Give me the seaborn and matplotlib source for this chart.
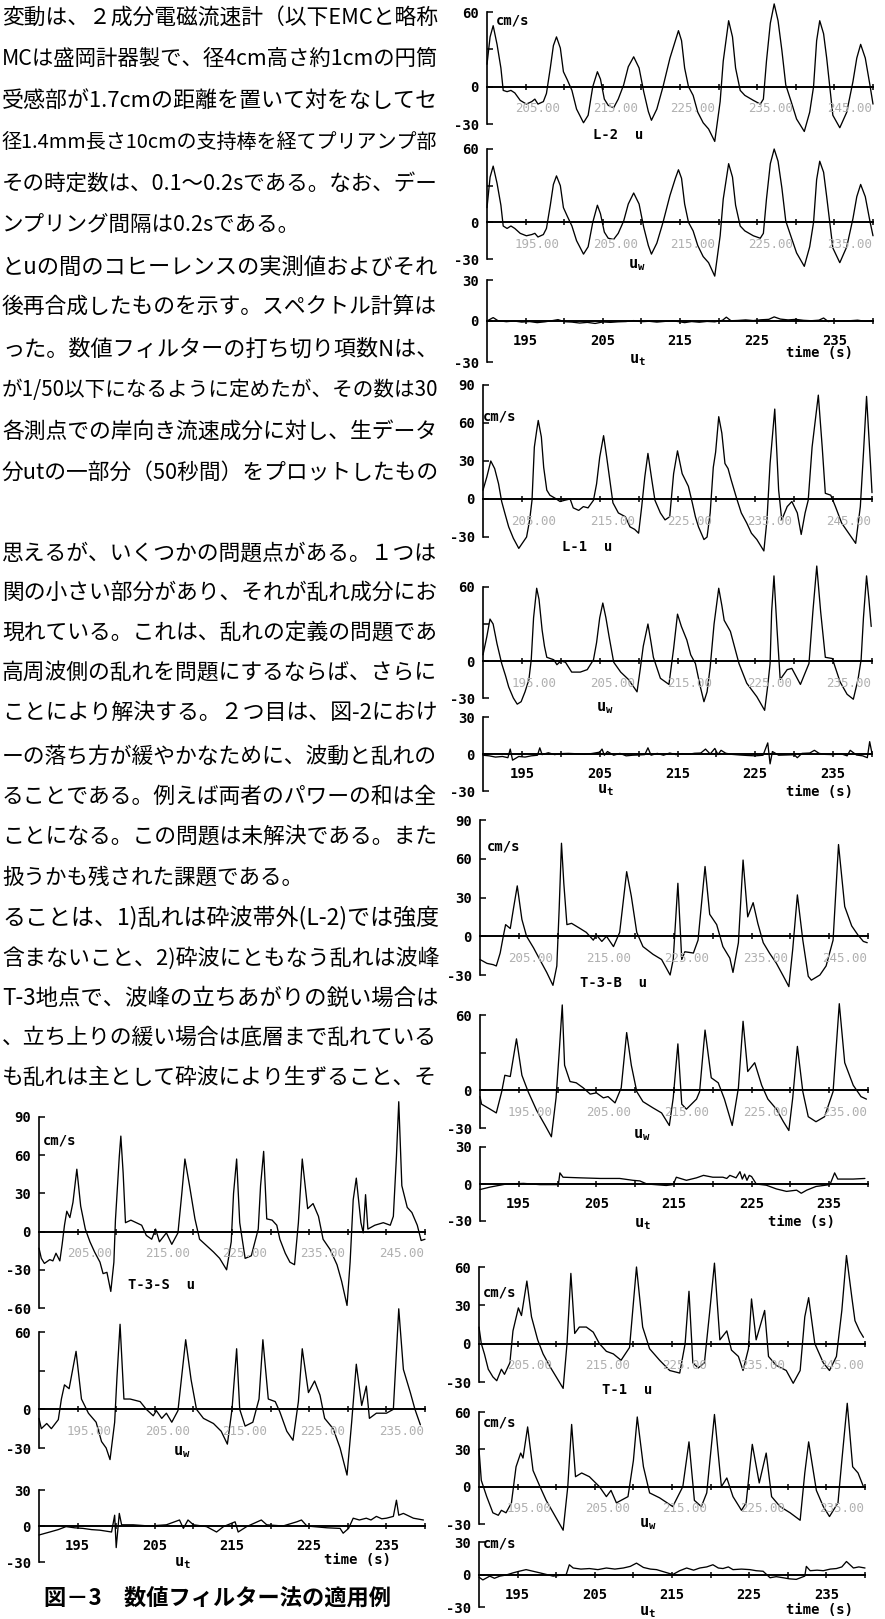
import matplotlib
matplotlib.use("Agg")
import matplotlib.pyplot as plt
import seaborn as sns
from matplotlib.ticker import FixedLocator, FixedFormatter, NullFormatter

# ------------------------------------------------------------------ data
# L-2
L2_U_TIME = [190.0, 190.4, 190.8, 191.3, 191.8, 192.1, 192.6, 193.1, 193.6, 194.3, 195.1, 195.8, 196.2, 196.6,
             197.3, 197.7, 198.2, 198.6, 199.0, 199.5, 199.9, 200.4, 201.0, 201.6, 202.5, 203.1, 203.7, 204.3,
             204.7, 205.2, 205.7, 206.4, 207.0, 207.7, 208.3, 209.0, 209.7, 210.3, 210.9, 211.3, 212.0, 212.8,
             213.7, 214.4, 214.8, 215.2, 215.6, 216.1, 216.7, 217.3, 218.0, 218.7, 219.5, 220.2, 220.6, 221.3,
             221.8, 222.2, 222.8, 223.4, 224.5, 225.4, 225.8, 226.2, 226.7, 227.2, 227.7, 228.2, 228.7, 229.4,
             230.1, 231.1, 231.8, 232.3, 232.7, 233.1, 233.6, 234.0, 234.4, 234.8, 235.7, 236.6, 237.4, 237.9,
             238.4, 239.0, 239.6, 240.0]
L2_U_VAL = [18, 40, 49, 34, 15, -3, -4, -3, -5, -11, -14, -12, -10, -14,
            -12, -5.5, 15, 33, 40, 31, 12, 5.5, -3, -18, -29, -23, 0, 12,
            6, -10, -15, -17, -10, 1.4, 16, 24, 15, -4, -20, -27, -18, 0,
            23, 37, 45, 37, 15, 0, -7, -20.5, -29, -34, -44, -12, 20.5, 53,
            40, 15, -3, -7, -11, -14, -10, 20.5, 51, 66.5, 53, 29, 1.4, -12,
            -26, -36, -20.5, 0, 37, 53, 42.5, 23, 0, -23, -33, -20.5, 4, 23,
            34, 23, 1.4, -14]
L2_UW_TIME = [190.0, 190.4, 190.8, 191.3, 191.8, 192.1, 192.6, 193.1, 193.6, 194.3, 195.1, 195.8, 196.2, 196.6,
              197.3, 197.7, 198.2, 198.6, 199.0, 199.5, 199.9, 200.4, 201.0, 201.6, 202.5, 203.1, 203.7, 204.3,
              204.7, 205.2, 205.7, 206.4, 207.0, 207.7, 208.3, 209.0, 209.7, 210.3, 210.9, 211.3, 212.0, 212.8,
              213.7, 214.4, 214.8, 215.2, 215.6, 216.1, 216.7, 217.3, 218.0, 218.7, 219.5, 220.2, 220.6, 221.3,
              221.8, 222.2, 222.8, 223.4, 224.5, 225.4, 225.8, 226.2, 226.7, 227.2, 227.7, 228.2, 228.7, 229.4,
              230.1, 231.1, 231.8, 232.3, 232.7, 233.1, 233.6, 234.0, 234.4, 234.8, 235.7, 236.6, 237.4, 237.9,
              238.4, 239.0, 239.6, 240.0]
L2_UW_VAL = [12, 37, 46, 32, 14, -3, -5, -3, -5, -9, -11, -10, -9, -12,
             -10, -5, 14, 31, 38, 30, 12, 5, -3, -15, -26, -20, 0, 14,
             7, -8, -13, -14, -9, 1, 15, 24, 15, -4, -19, -26, -17, 0,
             22, 36, 43, 36, 15, 0, -7, -19, -28, -33, -44, -11, 19, 48,
             37, 14, -3, -7, -11, -13, -9, 19, 48, 60, 50, 28, 1, -12,
             -25, -36, -20, 0, 35, 50, 41, 21, 0, -21, -33, -20, 3, 21,
             31, 21, 1, -11]
L2_UT_TIME = [190.0, 190.8, 191.4, 192.5, 193.5, 194.5, 195.5, 196.5, 197.5, 198.5, 199.2, 200.0, 201.0, 202.0,
              203.0, 204.0, 205.0, 206.0, 207.0, 208.0, 209.0, 210.0, 211.0, 212.0, 213.0, 214.0, 215.0, 215.6,
              216.5, 217.5, 218.5, 219.5, 220.5, 221.0, 221.6, 222.5, 223.5, 224.5, 225.5, 226.5, 227.2, 228.0,
              229.0, 230.0, 231.0, 232.0, 233.0, 233.6, 234.2, 235.0, 236.0, 237.0, 238.0, 239.0, 240.0]
L2_UT_VAL = [0, 2.5, 0.3, -0.5, 0, -0.8, -0.4, -1.2, -0.6, 0.3, 1.0, -0.5, -0.8, -1.5,
             -1.0, -1.8, -0.7, -1.0, -0.6, -0.4, 0.3, -0.5, -0.2, -0.8, -0.3, 0.2, -0.6, -1.2,
             -0.4, -0.9, -0.3, -0.6, 0.5, 2.8, 0.2, 0.4, 0.8, 0.3, 0.9, 1.2, 3.0, 1.4,
             0.8, 1.2, 0.5, 0.2, 0.6, 2.2, -0.4, 0.3, 0.0, 0.2, 0.6, -0.2, 0.3]

# L-1
L1_U_TIME = [190.0, 190.5, 191.0, 191.5, 192.0, 192.4, 192.8, 193.3, 193.9, 194.6, 195.6, 196.0, 196.3, 196.6,
             196.9, 197.1, 197.5, 197.8, 198.2, 198.6, 199.3, 199.9, 200.5, 201.2, 201.6, 202.3, 202.9, 203.5,
             204.2, 204.6, 205.0, 205.5, 205.9, 206.3, 206.7, 207.4, 208.3, 208.9, 209.5, 210.0, 210.4, 210.8,
             211.2, 211.7, 212.1, 212.8, 213.4, 214.0, 214.5, 215.0, 215.6, 216.0, 216.4, 216.9, 217.3, 217.7,
             218.4, 218.8, 219.2, 219.6, 219.9, 220.3, 220.7, 221.1, 221.5, 221.9, 222.6, 223.2, 223.9, 224.5,
             225.2, 226.1, 226.5, 226.9, 227.5, 228.0, 228.4, 229.1, 229.7, 230.4, 230.9, 231.4, 231.8, 232.3,
             233.1, 233.6, 234.0, 234.7, 235.3, 236.1, 237.0, 237.9, 238.5, 238.9, 239.3, 239.8, 240.0]
L1_U_VAL = [7, 17.6, 30, 24, 12, -2, -11, -22, -31, -39, -30, -16.5, -1, 41,
            54, 62, 49, 25, 7, 3, 0.5, -2, -1, 0, -7, -9, -6, -7,
            -1, 12, 33, 50, 33, 15, -3, -11, -14, -22, -24, -27, -6, 17.6,
            36, 15, -1, -11, -16.5, -14, 20, 38, 20, 15, 10, -3, -14, -22,
            -32, -30, -11, 25, 37, 65, 52, 28, 24, 15, 0.5, -11, -19, -27,
            -32, -41, -16.5, 28, 71, 7, -16.5, -6, -2, -11, -28, -11, -1, 41,
            82, 41, 4.5, 3, -6, -19, -27, -35, -6, 36, 81, 28, 5]
L1_UW_TIME = [190.0, 190.5, 190.9, 191.3, 191.8, 192.4, 192.9, 193.3, 193.9, 194.4, 194.9, 195.4, 195.9, 196.2,
              196.5, 196.9, 197.2, 197.6, 197.9, 198.2, 199.1, 199.5, 200.0, 200.6, 201.4, 202.5, 203.4, 204.2,
              204.6, 205.0, 205.4, 205.8, 206.2, 206.8, 207.7, 208.7, 209.8, 210.2, 210.6, 211.2, 211.6, 211.9,
              212.8, 213.9, 214.5, 215.0, 215.5, 216.2, 216.7, 217.3, 217.9, 218.4, 218.8, 219.2, 219.7, 220.3,
              220.7, 221.0, 221.8, 222.9, 223.9, 225.2, 226.2, 226.6, 226.9, 227.1, 227.4, 227.8, 228.2, 229.1,
              229.7, 230.8, 231.9, 232.4, 232.9, 233.4, 234.0, 234.9, 235.9, 236.8, 237.6, 238.2, 238.6, 238.9,
              239.3, 239.6, 239.9]
L1_UW_VAL = [5, 20, 34, 30, 14, -2, -12, -21, -30, -35, -33, -25, -15, 1,
             35, 59, 50, 25, 12, 3, 1, -3, 0, -1, -9, -9, -7, 1,
             15, 35, 47, 35, 20, -1, -9, -15, -25, -7, 12, 30, 15, 3,
             -14, -19, 10, 38, 28, 17, 5, -2, -20, -33, -25, -5, 30, 59,
             45, 33, 24, -2, -18, -29, -40, -20, -2, 40, 69, 25, -15, -7,
             -6, -19, -2, 40, 77, 40, 3, 2, -17, -27, -31, -15, 1, 35,
             69, 50, 28]
L1_UT_TIME = [190.0, 190.8, 191.6, 192.5, 193.2, 193.5, 193.8, 194.6, 195.4, 196.2, 197.0, 197.3, 197.6, 198.4,
              199.2, 200.0, 201.0, 202.0, 203.0, 204.0, 205.0, 205.3, 205.6, 206.0, 206.8, 207.6, 208.4, 209.2,
              210.0, 210.8, 211.2, 211.6, 212.4, 213.2, 214.0, 214.8, 215.6, 216.4, 217.2, 218.0, 218.6, 219.2,
              219.8, 220.2, 220.6, 221.2, 222.0, 223.0, 224.0, 225.0, 226.0, 226.6, 226.9, 227.2, 228.0, 229.0,
              230.0, 230.4, 231.0, 232.0, 232.6, 233.2, 234.0, 235.0, 236.0, 236.8, 237.2, 238.0, 238.8, 239.4,
              239.7, 240.0]
L1_UT_VAL = [-1, -1.5, -2.5, -2, -3, 4, -5, -2, -2.5, -1.5, -1, 5, -0.5, 1,
             -0.5, 0.3, 0.5, 0.2, -0.3, 0.4, 1.5, 4, -1, 2, -1, 0.5, -1.5, -1,
             -0.8, -0.5, 5, -1, 0.5, -1, 0.8, -0.5, 0.3, -0.2, 0.6, 0.8, 4, 0,
             4.5, -0.5, 3, 0.6, -0.3, -0.8, -1.2, -1.5, -1, 9, -8, 2, -1, -0.8,
             -0.6, -3, 0.5, 0.8, 3, 0.5, -0.3, -0.5, 0.2, -1.5, 3, -0.8, -1.5, -3,
             10, 0.5]

# T-3-B
T3B_U_TIME = [190.0, 190.9, 191.7, 192.1, 192.6, 193.0, 193.3, 193.9, 194.3, 194.8, 195.4, 196.0, 196.9, 197.7,
              198.6, 199.4, 199.9, 200.2, 200.5, 200.8, 201.2, 201.8, 202.9, 203.7, 204.6, 205.0, 205.7, 206.3,
              207.2, 208.0, 208.9, 209.5, 210.2, 211.0, 212.3, 213.4, 214.5, 214.9, 215.5, 216.0, 216.4, 217.5,
              218.1, 219.0, 219.6, 220.5, 221.3, 222.2, 222.6, 223.3, 223.9, 224.5, 225.2, 225.8, 226.5, 227.3,
              228.2, 229.1, 229.8, 230.3, 230.9, 231.6, 232.3, 232.7, 233.8, 234.6, 235.5, 236.2, 237.0, 237.9,
              238.7, 239.4, 239.9]
T3B_U_VAL = [-18, -21, -22, -23, -13, 0, 9, 6, 21, 39, 13, 0, -9, -18,
             -28, -38, -23, 21, 72, 41, 9, 10, 6, 3, -3, 1, -4, 0,
             -8, 3, 50, 31, 3, -8, -14, -18, -30, -18, 41, -18, -12, -13,
             -3, 54, 17, 9, -8, -17, -28, -5, 59, 15, 26, 10, -5, -13,
             -21, -31, -39, -10, 32, -3, -31, -34, -30, -23, -3, 71, 23, 8,
             1, -4, -5]
T3B_UW_TIME = [190.0, 190.2, 191.3, 192.1, 192.8, 193.2, 193.9, 194.7, 195.4, 196.2, 197.3, 198.4, 199.2, 199.8,
               200.2, 200.6, 200.9, 201.6, 202.4, 203.3, 204.2, 205.0, 205.9, 206.5, 207.4, 208.2, 208.9, 209.5,
               210.2, 211.0, 212.3, 213.4, 214.4, 214.9, 215.5, 216.0, 216.6, 217.9, 218.3, 219.0, 219.8, 220.7,
               221.5, 222.5, 223.3, 223.9, 224.5, 225.4, 226.3, 227.1, 228.2, 229.1, 229.8, 230.3, 230.9, 231.6,
               232.3, 233.3, 234.4, 235.5, 236.3, 237.0, 238.1, 239.1, 239.8]
T3B_UW_VAL = [-5, -11, -15, -18, -1, 12, 11, 41, 12, -1, -16, -28, -37, -6,
              30, 68, 20, 7, 6, 2, -3, -2, -6, -5, -10, 2, 46, 20,
              -1, -9, -14, -18, -28, -6, 37, -11, -15, -7, -1, 48, 10, 6,
              -7, -28, 2, 55, 15, 22, 4, -7, -15, -25, -32, -6, 35, -1,
              -21, -25, -21, -1, 69, 22, 4, -5, -7]
T3B_UT_TIME = [190.0, 191.3, 193.4, 195.6, 197.7, 200.1, 200.3, 200.7, 202.9, 205.5, 208.0, 209.7, 210.6, 211.5,
               214.0, 214.9, 215.3, 216.6, 217.9, 218.8, 220.0, 221.3, 221.8, 222.2, 222.6, 223.0, 223.5, 223.8,
               224.1, 224.4, 224.7, 225.0, 225.6, 226.9, 228.2, 229.5, 230.8, 231.4, 232.1, 233.3, 235.1, 235.7,
               236.1, 238.1, 239.6]
T3B_UT_VAL = [-4.5, -2.5, 0, 0.5, -0.5, -0.5, 9, 5.5, 5, 4.5, 4.5, 3, 2.5, 0,
              -1.2, -0.5, 5.5, 3, 5, 7, 5.5, 5.5, 4.5, 7, 6, 5, 10, 4,
              8, 3, 7, 6, 0, -1, -4, -6, -5, -7.5, -5, -2, -0.5, 9,
              4, 4, 4.5]

# T-1
T1_U_TIME = [190.0, 190.3, 190.7, 191.2, 191.8, 192.3, 192.9, 193.3, 194.0, 194.4, 195.1, 195.5, 196.2, 196.8,
             197.6, 198.3, 199.2, 200.0, 200.9, 201.4, 201.9, 202.4, 203.0, 203.9, 204.8, 205.6, 206.5, 207.4,
             208.4, 209.5, 210.4, 211.2, 212.1, 213.4, 214.7, 216.0, 216.7, 217.2, 217.7, 218.4, 219.2, 219.9,
             220.5, 221.2, 222.1, 222.7, 223.6, 224.2, 224.9, 225.3, 225.9, 227.0, 227.5, 228.5, 229.8, 230.7,
             231.6, 232.2, 232.7, 233.5, 234.6, 235.4, 236.3, 237.0, 237.6, 238.3, 238.7, 239.3, 239.8]
T1_U_VAL = [13, 0, -8, -20, -26, -29, -20, -24, -15, 10, 28, 22, 49, 21,
            3, -8, -18, -26, -35, 0, 55, 8, 13, 13, 9, 0, -6, -8,
            -13, -3, 60, 13, -4, -13, -21, -23, 0, 41, -15, -19, -15, 26,
            63, 3, 10, -5, -10, -21, -4, 35, 3, 26, -10, -17, -21, -31,
            -21, 21, 36, 0, -15, -21, -10, 26, 69, 36, 18, 10, 5]
T1_UW_TIME = [190.0, 190.3, 191.0, 191.8, 192.5, 192.9, 193.5, 194.2, 194.8, 195.4, 195.7, 196.3, 197.0, 197.9,
              198.7, 199.8, 200.9, 201.5, 202.0, 202.5, 203.3, 204.3, 205.6, 206.5, 207.1, 207.8, 209.3, 210.0,
              210.5, 211.3, 212.1, 213.4, 215.1, 216.4, 217.2, 217.9, 218.8, 219.5, 220.5, 221.4, 222.1, 222.9,
              224.0, 224.6, 225.4, 226.3, 227.2, 227.9, 229.0, 230.3, 231.6, 232.2, 232.7, 233.7, 234.6, 235.4,
              236.5, 237.0, 237.7, 238.4, 239.1, 239.8]
T1_UW_VAL = [30, 5, -8, -21, -23, -19, -21, -13, 16, 27, 23, 48, 13, 0,
             -11, -23, -35, 0, 50, 8, 11, 8, 0, -8, -3, -13, -8, 21,
             56, 16, -5, -9, -16, 0, 36, -11, -16, -5, 58, 0, 7, -8,
             -19, -13, 34, 3, 27, -8, -16, -21, -27, 11, 36, -3, -16, -24,
             -13, 21, 67, 16, 11, 0]
T1_UT_TIME = [190.0, 190.5, 191.4, 192.0, 192.7, 193.5, 194.4, 195.2, 196.1, 197.0, 197.9, 199.6, 201.3, 201.7,
              202.2, 203.2, 204.3, 205.4, 206.5, 207.6, 208.7, 209.6, 210.4, 211.3, 212.2, 213.0, 215.1, 216.0,
              216.9, 217.8, 218.6, 219.5, 220.3, 221.0, 221.6, 222.3, 222.9, 224.0, 225.1, 225.9, 226.8, 227.7,
              228.5, 229.4, 230.2, 231.1, 232.2, 232.4, 232.9, 233.8, 234.6, 235.5, 236.3, 237.0, 237.6, 238.5,
              239.2, 240.0]
T1_UT_VAL = [-2.5, -5, -1.5, -3.5, -1.5, -0.5, 1.5, 3, 4.5, 3, 1.5, -1.5, 0, 9,
             6, 5, 5.5, 4.5, 6, 5, 6, 7.5, 10.5, 6.5, 5, 4.5, 0, 3.5,
             6, 4, 6, 7, 9, 6, 5.5, 7, 4.5, 5, 4.5, 3.5, 3, -3,
             -2, -3, -4, -4.5, -1.5, 7.5, 3.5, 4, 3.5, 5, 5.5, 7, 12, 6,
             7, 6]

# T-3-S
T3S_U_TIME = [190.0, 190.3, 190.7, 191.4, 191.8, 192.2, 192.7, 193.0, 193.3, 193.6, 194.0, 194.4, 194.9, 195.4,
              196.0, 196.6, 197.2, 197.9, 198.3, 198.8, 199.3, 199.7, 199.9, 200.4, 200.6, 200.9, 201.2, 201.9,
              202.6, 203.3, 203.9, 204.6, 205.1, 205.6, 206.5, 207.2, 208.0, 208.5, 208.9, 209.5, 210.2, 210.8,
              211.7, 212.6, 213.4, 214.3, 214.9, 215.2, 215.6, 216.0, 216.7, 217.5, 218.4, 218.7, 219.1, 219.5,
              220.2, 220.8, 221.2, 221.9, 222.5, 223.1, 223.6, 224.1, 224.8, 225.5, 226.2, 226.8, 227.7, 228.6,
              229.2, 229.9, 230.3, 230.7, 231.1, 231.7, 232.0, 232.3, 232.6, 233.5, 234.6, 235.5, 235.9, 236.3,
              236.6, 237.0, 237.7, 238.3, 239.0, 239.5, 240.0]
T3S_U_VAL = [-13, -21, -25, -22, -23, -17, -23, -10, 5, 16, 11, 23, 49, 20,
             2, -8, -16, -24, -33, -32, -47, -24, 9, 59, 75, 46, 7, 9,
             7, 5, -3, -6, 2, -8, -1, -10, -1, 30, 57, 36, 10, -6,
             -11, -16, -21, -30, -8, 30, 57, 7, -21, -19, 2, 36, 63, 10,
             9, 5, -6, -17, -24, -26, 7, 57, 18, 22, 12, -6, -14, -26,
             -39, -58, -24, 25, 42, 7, -1, 29, 2, 5, 7, 5, 12, 59,
             102, 36, 19, 15, 5, -7, -6]
T3S_UW_TIME = [190.0, 190.3, 191.0, 191.6, 192.5, 192.9, 193.3, 193.9, 194.8, 195.5, 196.4, 197.4, 198.1, 198.7,
               199.2, 199.8, 200.1, 200.5, 201.0, 201.8, 203.1, 203.9, 204.8, 205.2, 205.9, 206.5, 207.2, 208.0,
               209.0, 209.7, 210.4, 211.3, 212.6, 213.6, 214.4, 215.0, 215.6, 216.0, 216.7, 217.7, 218.5, 219.0,
               219.7, 220.6, 221.2, 222.1, 222.9, 223.6, 224.1, 224.9, 225.7, 226.4, 227.0, 228.1, 229.0, 229.9,
               230.5, 231.1, 231.8, 232.4, 232.8, 233.7, 235.0, 235.9, 236.6, 237.2, 238.1, 238.7, 239.4]
T3S_UW_VAL = [-7, -15, -11, -15, -8, 8, 19, 16, 45, 8, -3, -10, -25, -30,
              -39, -10, 25, 66, 8, 8, 6, 0, -5, -1, -7, -3, -10, -1,
              54, 23, 0, -7, -11, -17, -27, 0, 47, 0, -13, -10, 8, 54,
              8, 6, -2, -17, -24, 6, 47, 13, 22, 11, -7, -15, -30, -51,
              -10, 35, 3, 18, -7, -3, -3, 0, 78, 31, 13, 0, -12]
T3S_UT_TIME = [190.0, 191.4, 192.5, 193.5, 194.6, 195.7, 196.8, 197.9, 199.4, 199.8, 200.0, 200.4, 200.7, 202.2,
               204.3, 206.5, 208.2, 208.7, 209.3, 210.0, 211.7, 213.0, 213.9, 215.4, 215.8, 216.9, 218.8, 219.5,
               221.6, 223.4, 224.0, 224.7, 227.3, 229.0, 229.4, 230.1, 230.7, 231.5, 232.4, 233.0, 233.7, 234.4,
               235.0, 235.9, 236.3, 236.6, 237.2, 238.5, 239.8]
T3S_UT_VAL = [-7.5, -5, -3, -0.5, -1.5, -2, -3, -3.5, -5, 9, -18, 10.5, 1, 1,
              0, 1, 5, -2, 5, 1, -0.5, -5, -0.5, 3.5, -5, -0.5, 5, 1,
              0, 3.5, 5, 0, -1.5, -2, -6, -2, 6.5, 5, 6.5, 5, 8, 6,
              6.5, 8, 21.5, 9, 10.5, 6.5, 5]

TEXT_LINES = [
    "変動は、２成分電磁流速計（以下EMCと略称",
    "MCは盛岡計器製で、径4cm高さ約1cmの円筒",
    "受感部が1.7cmの距離を置いて対をなしてセ",
    "径1.4mm長さ10cmの支持棒を経てプリアンプ部",
    "その時定数は、0.1～0.2sである。なお、デー",
    "ンプリング間隔は0.2sである。",
    "とuの間のコヒーレンスの実測値およびそれ",
    "後再合成したものを示す。スペクトル計算は",
    "った。数値フィルターの打ち切り項数Nは、",
    "が1/50以下になるように定めたが、その数は30",
    "各測点での岸向き流速成分に対し、生データ",
    "分utの一部分（50秒間）をプロットしたもの",
    "思えるが、いくつかの問題点がある。１つは",
    "関の小さい部分があり、それが乱れ成分にお",
    "現れている。これは、乱れの定義の問題であ",
    "高周波側の乱れを問題にするならば、さらに",
    "ことにより解決する。２つ目は、図-2におけ",
    "ーの落ち方が緩やかなために、波動と乱れの",
    "ることである。例えば両者のパワーの和は全",
    "ことになる。この問題は未解決である。また",
    "扱うかも残された課題である。",
    "ることは、1)乱れは砕波帯外(L-2)では強度",
    "含まないこと、2)砕波にともなう乱れは波峰",
    "T-3地点で、波峰の立ちあがりの鋭い場合は",
    "、立ち上りの緩い場合は底層まで乱れている",
    "も乱れは主として砕波により生ずること、そ",
]
CAPTION = "図－3　数値フィルター法の適用例"

# ------------------------------------------------------------------ style
W, H = 885, 1619
sns.set_theme(style="white")
plt.rcParams["font.family"] = ["DejaVu Sans Mono", "Noto Sans CJK JP"]
plt.rcParams["font.weight"] = "bold"
plt.rcParams["axes.edgecolor"] = "black"
plt.rcParams["xtick.color"] = "black"
plt.rcParams["ytick.color"] = "black"
plt.rcParams["axes.facecolor"] = "none"
CJK = ["Noto Sans CJK JP", "DejaVu Sans"]

fig = plt.figure(figsize=(W / 100, H / 100), dpi=100)
fig.patch.set_facecolor("white")


def ftxt(x, y, s, **kw):
    kw.setdefault("fontsize", 10)
    kw.setdefault("ha", "left")
    kw.setdefault("va", "center")
    return fig.text(x / W, 1 - y / H, s, color="black", **kw)


def panel(x0, x1, ytop, ybot, ylim, yticks, ylabels, t, v, kind):
    ax = fig.add_axes([x0 / W, 1 - ybot / H, (x1 - x0) / W, (ybot - ytop) / H])
    sns.lineplot(x=t, y=v, ax=ax, color="black", lw=0.95, estimator=None,
                 sort=False, clip_on=False)
    ax.set_xlim(190, 240)
    ax.set_ylim(*ylim)
    ax.set_xlabel("")
    ax.set_ylabel("")
    for s in ("top", "right"):
        ax.spines[s].set_visible(False)
    ax.spines["bottom"].set_position(("data", 0))
    ax.spines["bottom"].set_linewidth(1.4)
    ax.spines["left"].set_linewidth(1.2)
    ax.xaxis.set_major_locator(FixedLocator([195, 205, 215, 225, 235]))
    ax.xaxis.set_minor_locator(FixedLocator([200, 210, 220, 230, 240]))
    ax.tick_params(axis="x", which="both", direction="inout", length=5, width=1.1,
                   pad=7, labelsize=10, bottom=True)
    if kind == "ut":
        ax.xaxis.set_major_formatter(FixedFormatter(["195", "205", "215", "225", "235"]))
    else:
        ax.xaxis.set_major_formatter(NullFormatter())
        for k, tt in enumerate([196.5, 206.6, 216.6, 226.8, 237.0]):
            base = 205 if kind == "u" else 195
            ax.annotate(f"{base + 10 * k}.00", xy=(tt, 0), xytext=(0, -16),
                        textcoords="offset points", ha="center", va="center",
                        fontsize=9, color="#b0b0b0", fontweight="normal")
    ax.yaxis.set_major_locator(FixedLocator(yticks))
    ax.yaxis.set_major_formatter(FixedFormatter(ylabels))
    ax.tick_params(axis="y", direction="in", length=4, width=1.1, pad=6,
                   labelsize=10, left=True)
    ax.grid(False)
    return ax


L_u = (-30, 60)
PAN = [
    # x0, x1, ytop, ybot, ylim, ticks, labels, t, v, kind
    (487, 873, 12, 124, L_u, [-30, 0, 30, 60], ["-30", "0", "", "60"], L2_U_TIME, L2_U_VAL, "u"),
    (487, 873, 149, 259, L_u, [-30, 0, 30, 60], ["-30", "0", "", "60"], L2_UW_TIME, L2_UW_VAL, "uw"),
    (487, 873, 280, 362, (-30, 30), [-30, 0, 30], ["-30", "0", "30"], L2_UT_TIME, L2_UT_VAL, "ut"),
    (483, 872, 385, 537, (-30, 90), [-30, 0, 30, 60, 90], ["-30", "0", "30", "60", "90"], L1_U_TIME, L1_U_VAL, "u"),
    (483, 872, 587, 698, L_u, [-30, 0, 30, 60], ["-30", "0", "", "60"], L1_UW_TIME, L1_UW_VAL, "uw"),
    (483, 872, 717, 791, (-30, 30), [-30, 0, 30], ["-30", "0", "30"], L1_UT_TIME, L1_UT_VAL, "ut"),
    (480, 868, 820, 975, (-30, 90), [-30, 0, 30, 60, 90], ["-30", "0", "30", "60", "90"], T3B_U_TIME, T3B_U_VAL, "u"),
    (480, 868, 1015, 1128, L_u, [-30, 0, 30, 60], ["-30", "0", "", "60"], T3B_UW_TIME, T3B_UW_VAL, "uw"),
    (480, 868, 1147, 1221, (-30, 30), [-30, 0, 30], ["-30", "0", "30"], T3B_UT_TIME, T3B_UT_VAL, "ut"),
    (479, 865, 1267, 1382, L_u, [-30, 0, 30, 60], ["-30", "0", "30", "60"], T1_U_TIME, T1_U_VAL, "u"),
    (479, 865, 1412, 1524, L_u, [-30, 0, 30, 60], ["-30", "0", "30", "60"], T1_UW_TIME, T1_UW_VAL, "uw"),
    (479, 865, 1542, 1607, (-30, 30), [-30, 0, 30], ["-30", "0", "30"], T1_UT_TIME, T1_UT_VAL, "ut"),
    (39, 425, 1117, 1308, (-60, 90), [-60, -30, 0, 30, 60, 90], ["-60", "-30", "0", "30", "60", "90"], T3S_U_TIME, T3S_U_VAL, "u"),
    (39, 425, 1332, 1448, L_u, [-30, 0, 30, 60], ["-30", "0", "", "60"], T3S_UW_TIME, T3S_UW_VAL, "uw"),
    (39, 425, 1490, 1562, (-30, 30), [-30, 0, 30], ["-30", "0", "30"], T3S_UT_TIME, T3S_UT_VAL, "ut"),
]
for p in PAN:
    panel(*p)

# units
for (x, y) in [(496, 20), (483, 417), (487, 847), (483, 1292), (483, 1422), (483, 1543), (43, 1140)]:
    ftxt(x, y, "cm/s", fontsize=10)
# panel names
for (s, x, y) in [("L-2  u", 618, 135), ("L-1  u", 587, 547), ("T-3-B  u", 614, 983),
                  ("T-1  u", 627, 1390), ("T-3-S  u", 161, 1285)]:
    ftxt(x, y, s, ha="center", fontsize=10)
for (x, y) in [(637, 265), (605, 708), (642, 1135), (648, 1524), (182, 1452)]:
    ftxt(x, y, r"$\mathtt{u}_{\mathtt{w}}$", ha="center", fontsize=11)
for (x, y) in [(637, 360), (605, 790), (642, 1224), (647, 1612), (182, 1563)]:
    ftxt(x, y, r"$\mathtt{u}_{\mathtt{t}}$", ha="center", fontsize=11)
for (x, y) in [(820, 353), (820, 792), (801, 1222), (820, 1610), (358, 1560)]:
    ftxt(x, y, "time (s)", ha="center", fontsize=10)

# handwritten text block, each line fitted to the column width
LINE_Y = [18, 59, 101, 142, 184, 225, 267, 308, 350, 390, 432, 473,
          553, 593, 633, 673, 713, 757, 797, 837, 877, 918, 958, 998, 1038, 1078]
SHORT = {5, 20}
BASE_FS = 15.5
renderer = fig.canvas.get_renderer()
for i, (s, y) in enumerate(zip(TEXT_LINES, LINE_Y)):
    txt = ftxt(2, y, s, fontsize=BASE_FS, family=CJK, fontweight="normal")
    w = txt.get_window_extent(renderer).width
    if i in SHORT:
        fs = BASE_FS
    else:
        fs = BASE_FS * 436.0 / w
    fs = max(12.5, min(17.5, fs))
    txt.set_fontsize(fs)
    w2 = txt.get_window_extent(renderer).width
    if w2 > 438:
        txt.set_fontsize(fs * 438.0 / w2)

ftxt(218, 1598, CAPTION, ha="center", fontsize=16, family=CJK, fontweight="bold")

fig.savefig("out.png", dpi=100, facecolor="white")
